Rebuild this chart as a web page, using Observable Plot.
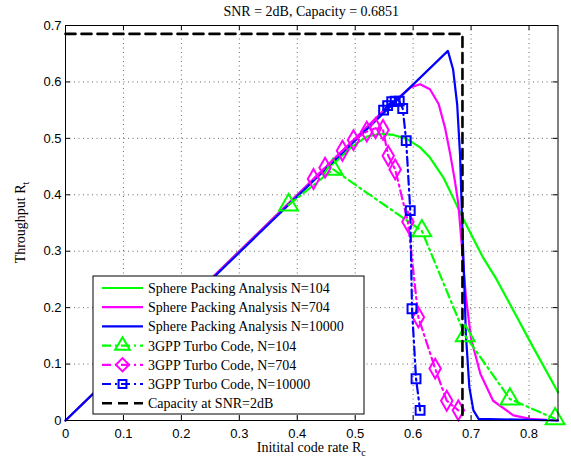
<!DOCTYPE html>
<html>
<head>
<meta charset="utf-8">
<script src="https://cdn.jsdelivr.net/npm/d3@7"></script>
<script src="https://cdn.jsdelivr.net/npm/@observablehq/plot@0.6"></script>
<style>
  html, body { margin: 0; padding: 0; background: #fff; }
  #chart svg { display: block; }
</style>
</head>
<body>
<div id="chart"></div>
<script>
// ---- data ----
const titleText = "SNR = 2dB, Capacity = 0.6851";
const capacity = 0.6851;
const xTicks = [0, 0.1, 0.2, 0.3, 0.4, 0.5, 0.6, 0.7, 0.8];
const yTicks = [0, 0.1, 0.2, 0.3, 0.4, 0.5, 0.6, 0.7];

// Sphere packing analysis, N=104
const sp104X = [0, 0.40, 0.44, 0.47, 0.494, 0.52, 0.543, 0.566, 0.589, 0.612, 0.629, 0.652, 0.669, 0.685, 0.70, 0.72, 0.744, 0.773, 0.807, 0.85];
const sp104Y = [0, 0.40, 0.437, 0.462, 0.485, 0.503, 0.508, 0.506, 0.499, 0.484, 0.466, 0.431, 0.395, 0.36, 0.33, 0.29, 0.25, 0.195, 0.13, 0.05];
// Sphere packing analysis, N=704
const sp704X = [0, 0.55, 0.577, 0.595, 0.612, 0.629, 0.644, 0.655, 0.664, 0.672, 0.678, 0.684, 0.691, 0.70, 0.716, 0.738, 0.773, 0.802, 0.85];
const sp704Y = [0, 0.55, 0.574, 0.590, 0.596, 0.587, 0.561, 0.519, 0.472, 0.425, 0.384, 0.31, 0.22, 0.145, 0.083, 0.035, 0.009, 0.003, 0];
// Sphere packing analysis, N=10000
const sp10000X = [0, 0.660, 0.669, 0.676, 0.681, 0.684, 0.688, 0.691, 0.697, 0.704, 0.713, 0.85];
const sp10000Y = [0, 0.655, 0.622, 0.56, 0.47, 0.37, 0.25, 0.153, 0.059, 0.018, 0.003, 0];

// 3GPP Turbo code points
const tc104X = [0.385, 0.462, 0.615, 0.690, 0.767, 0.845];
const tc104Y = [0.382, 0.445, 0.336, 0.150, 0.038, 0.003];
const tc704X = [0.428, 0.448, 0.478, 0.497, 0.520, 0.535, 0.548, 0.557, 0.569, 0.591, 0.609, 0.638, 0.658, 0.678];
const tc704Y = [0.428, 0.448, 0.478, 0.497, 0.512, 0.518, 0.515, 0.469, 0.445, 0.352, 0.183, 0.092, 0.035, 0.018];
const tc10000X = [0.549, 0.556, 0.563, 0.569, 0.576, 0.582, 0.588, 0.595, 0.598, 0.605, 0.612];
const tc10000Y = [0.550, 0.558, 0.565, 0.566, 0.566, 0.553, 0.496, 0.372, 0.198, 0.074, 0.018];

// Capacity bound
const capX = [0, capacity, capacity];
const capY = [capacity, capacity, 0];

const legendLabels = [
  "Sphere Packing Analysis N=104",
  "Sphere Packing Analysis N=704",
  "Sphere Packing Analysis N=10000",
  "3GPP Turbo Code, N=104",
  "3GPP Turbo Code, N=704",
  "3GPP Turbo Code, N=10000",
  "Capacity at SNR=2dB"
];

// ---- build tables ----
const zip = (xs, ys) => xs.map((x, i) => ({x, y: ys[i]}));
const GREEN = "#00ff00", MAGENTA = "#ff00ff", BLUE = "#0000ff";
const W = 571, H = 464;
const mL = 65, mR = 13.5, mT = 25, mB = 44;
const fw = W - mL - mR, fh = H - mT - mB;
const dashDot = "9,4,2,4";

const chart = Plot.plot({
  width: W, height: H,
  marginLeft: mL, marginRight: mR, marginTop: mT, marginBottom: mB,
  style: {fontFamily: "'Liberation Sans', Arial, sans-serif", fontSize: "13px", background: "#fff", color: "#000"},
  x: {domain: [0, 0.85], ticks: xTicks, label: null},
  y: {domain: [0, 0.7], ticks: yTicks, label: null},
  marks: [
    Plot.gridX(xTicks, {stroke: "#000", strokeOpacity: 0.6, strokeDasharray: "1,3.5"}),
    Plot.gridY(yTicks, {stroke: "#000", strokeOpacity: 0.6, strokeDasharray: "1,3.5"}),
    Plot.axisX({ticks: xTicks, tickSize: 0, tickPadding: 8, fontSize: 13, tickFormat: d => d === 0 ? "0" : d3.format(".1f")(d)}),
    Plot.axisY({ticks: yTicks, tickSize: 0, tickPadding: 4, fontSize: 13, tickFormat: d => d === 0 ? "0" : d3.format(".1f")(d)}),
    // inside ticks on all four sides
    Plot.tickX(xTicks, {x: d => d, insetTop: fh - 5, stroke: "#000"}),
    Plot.tickX(xTicks, {x: d => d, insetBottom: fh - 5, stroke: "#000"}),
    Plot.tickY(yTicks, {y: d => d, insetRight: fw - 5, stroke: "#000"}),
    Plot.tickY(yTicks, {y: d => d, insetLeft: fw - 5, stroke: "#000"}),
    // sphere packing curves
    Plot.line(zip(sp104X, sp104Y), {x: "x", y: "y", stroke: GREEN, strokeWidth: 2.2}),
    Plot.line(zip(sp704X, sp704Y), {x: "x", y: "y", stroke: MAGENTA, strokeWidth: 2.2}),
    Plot.line(zip(sp10000X, sp10000Y), {x: "x", y: "y", stroke: BLUE, strokeWidth: 2.2}),
    // turbo code
    Plot.line(zip(tc104X, tc104Y), {x: "x", y: "y", stroke: GREEN, strokeWidth: 2.2, strokeDasharray: dashDot}),
    Plot.dot(zip(tc104X, tc104Y), {x: "x", y: "y", stroke: GREEN, strokeWidth: 2, fill: "none", symbol: "triangle", r: 7}),
    Plot.line(zip(tc704X, tc704Y), {x: "x", y: "y", stroke: MAGENTA, strokeWidth: 2.2, strokeDasharray: dashDot}),
    Plot.dot(zip(tc704X, tc704Y), {x: "x", y: "y", stroke: MAGENTA, strokeWidth: 2, fill: "none", symbol: "diamond", r: 6}),
    Plot.line(zip(tc10000X, tc10000Y), {x: "x", y: "y", stroke: BLUE, strokeWidth: 2.2, strokeDasharray: dashDot}),
    Plot.dot(zip(tc10000X, tc10000Y), {x: "x", y: "y", stroke: BLUE, strokeWidth: 2, fill: "none", symbol: "square", r: 5}),
    // capacity
    Plot.line(zip(capX, capY), {x: "x", y: "y", stroke: "#000", strokeWidth: 2.6, strokeDasharray: "10,6"}),
    Plot.frame({stroke: "#000", strokeWidth: 1})
  ]
});

document.getElementById("chart").appendChild(chart);

// ---- annotations (title, axis labels, legend) ----
const svg = d3.select(chart);
const serif = "'Liberation Serif', 'Times New Roman', serif";
const cx = mL + fw / 2;

svg.append("text")
  .attr("x", cx).attr("y", 16)
  .attr("text-anchor", "middle")
  .style("font-family", serif).style("font-size", "14px")
  .text(titleText);

const xl = svg.append("text")
  .attr("x", cx).attr("y", 452)
  .attr("text-anchor", "middle")
  .style("font-family", serif).style("font-size", "14px");
xl.append("tspan").text("Initital code rate R");
xl.append("tspan").attr("dy", 4).style("font-size", "10px").text("c");

const yl = svg.append("text")
  .attr("transform", `translate(25,${mT + fh / 2}) rotate(-90)`)
  .attr("text-anchor", "middle")
  .style("font-family", serif).style("font-size", "14px");
yl.append("tspan").text("Throughput R");
yl.append("tspan").attr("dy", 4).style("font-size", "10px").text("t");

// legend
const lg = svg.append("g");
const lx = 93, ly = 276, lw = 271, lh = 138;
lg.append("rect").attr("x", lx).attr("y", ly).attr("width", lw).attr("height", lh)
  .attr("fill", "#fff").attr("stroke", "#000").attr("stroke-width", 1);
const rowY = i => ly + 12 + i * 19.2;
const styles = [
  {c: GREEN, dash: null, sym: null},
  {c: MAGENTA, dash: null, sym: null},
  {c: BLUE, dash: null, sym: null},
  {c: GREEN, dash: dashDot, sym: "triangle"},
  {c: MAGENTA, dash: dashDot, sym: "diamond"},
  {c: BLUE, dash: dashDot, sym: "square"},
  {c: "#000", dash: "10,6", sym: null}
];
const symMap = {triangle: [d3.symbolTriangle2, 7], diamond: [d3.symbolDiamond2, 6], square: [d3.symbolSquare2, 5]};
legendLabels.forEach((lab, i) => {
  const y = rowY(i), st = styles[i];
  lg.append("line").attr("x1", 102).attr("x2", 143).attr("y1", y).attr("y2", y)
    .attr("stroke", st.c).attr("stroke-width", i === 6 ? 2.6 : 2.2)
    .attr("stroke-dasharray", st.dash);
  if (st.sym) {
    const [sym, r] = symMap[st.sym];
    lg.append("path").attr("d", d3.symbol(sym, Math.PI * r * r)())
      .attr("transform", `translate(122.5,${y})`)
      .attr("fill", "none").attr("stroke", st.c).attr("stroke-width", 2);
  }
  lg.append("text").attr("x", 148).attr("y", y).attr("dy", "0.35em")
    .attr("text-anchor", "start")
    .style("font-family", serif).style("font-size", "14px").text(lab);
});
</script>
</body>
</html>
